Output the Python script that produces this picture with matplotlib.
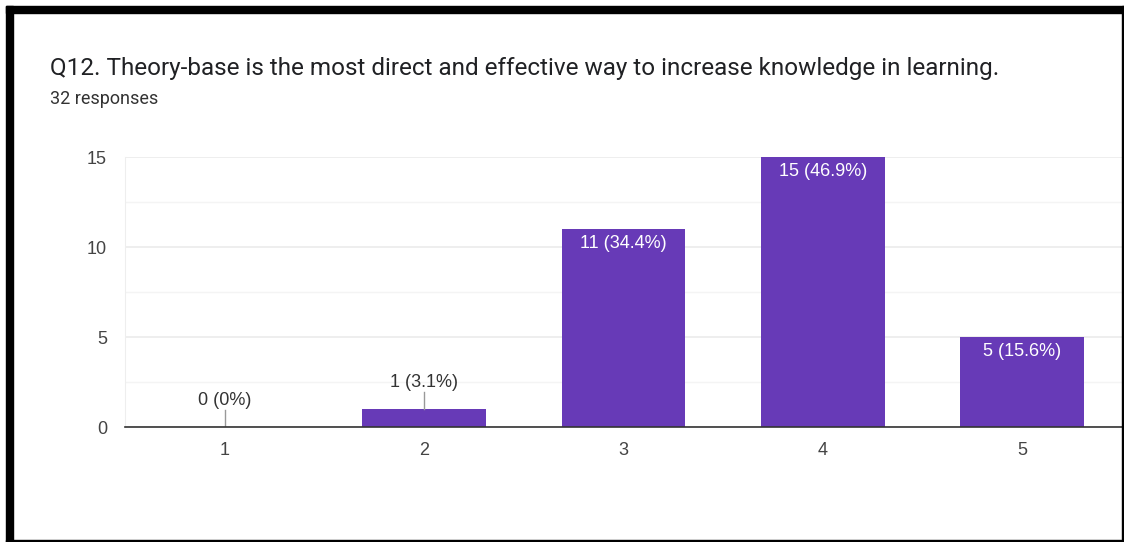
import matplotlib
matplotlib.use("Agg")
from matplotlib import pyplot as plt
from matplotlib.patches import Rectangle
from matplotlib.ticker import MultipleLocator

plt.rcParams['font.family'] = ['Roboto', 'DejaVu Sans']
chart_font = ['Liberation Sans', 'DejaVu Sans']

# survey data
categories = [1, 2, 3, 4, 5]
counts = [0, 1, 11, 15, 5]
percents = ['0%', '3.1%', '34.4%', '46.9%', '15.6%']
title = "Q12. Theory-base is the most direct and effective way to increase knowledge in learning."
subtitle = "32 responses"

W, H = 1124, 542
fig = plt.figure(figsize=(W / 100, H / 100), dpi=100)
fig.patch.set_facecolor('white')

# plot area in pixel coordinates
left, right, top, bottom = 125, 1122, 157, 427
ax = fig.add_axes([left / W, 1 - bottom / H, (right - left) / W, (bottom - top) / H])

purple = '#673ab7'
ax.bar(categories, counts, width=0.62, color=purple, zorder=3)
ax.set_xlim(0.5, 5.5)
ax.set_ylim(0, 15)

ax.yaxis.set_major_locator(MultipleLocator(5))
ax.yaxis.set_minor_locator(MultipleLocator(2.5))
ax.grid(axis='y', which='major', color='#ebebeb', lw=1.2, zorder=0)
ax.grid(axis='y', which='minor', color='#f4f4f4', lw=1.0, zorder=0)
ax.set_xticks(categories)
ax.tick_params(axis='both', which='both', length=0, labelsize=13, labelcolor='#444444')
ax.tick_params(axis='y', pad=13)
ax.tick_params(axis='x', pad=11)
for lbl in ax.get_xticklabels() + ax.get_yticklabels():
    lbl.set_family(chart_font)
for s in ['top', 'right']:
    ax.spines[s].set_visible(False)
ax.spines['left'].set_color('#eeeeee')
ax.spines['bottom'].set_color('#333333')
ax.spines['bottom'].set_linewidth(1.2)
ax.spines['bottom'].set_zorder(4)

# value labels: inside tall bars, above short ones with a leader line
for x, c, p in zip(categories, counts, percents):
    label = f"{c} ({p})"
    if c >= 3:
        ax.text(x, c - 0.35, label, ha='center', va='top', color='white',
                fontsize=13, family=chart_font, zorder=5)
    else:
        ax.plot([x, x], [c, c + 0.95], color='#999999', lw=1, zorder=4)
        ax.text(x, c + 1.0, label, ha='center', va='bottom', color='#333333',
                fontsize=13, family=chart_font, zorder=5)

fig.text(50 / W, 1 - 68 / H, title, fontsize=17.5, color='#202124', va='center', ha='left')
fig.text(50 / W, 1 - 99 / H, subtitle, fontsize=13, color='#333333', va='center', ha='left')

# frame around the card
def px_rect(x0, y0, x1, y1):
    fig.patches.append(Rectangle((x0 / W, 1 - y1 / H), (x1 - x0) / W, (y1 - y0) / H,
                                 transform=fig.transFigure, color='black', zorder=10))

px_rect(6, 6, W, 13)
px_rect(6, 6, 13, 542)
px_rect(1122, 6, W, 542)
px_rect(6, 540, W, 542)

fig.savefig('out.png', dpi=100)
